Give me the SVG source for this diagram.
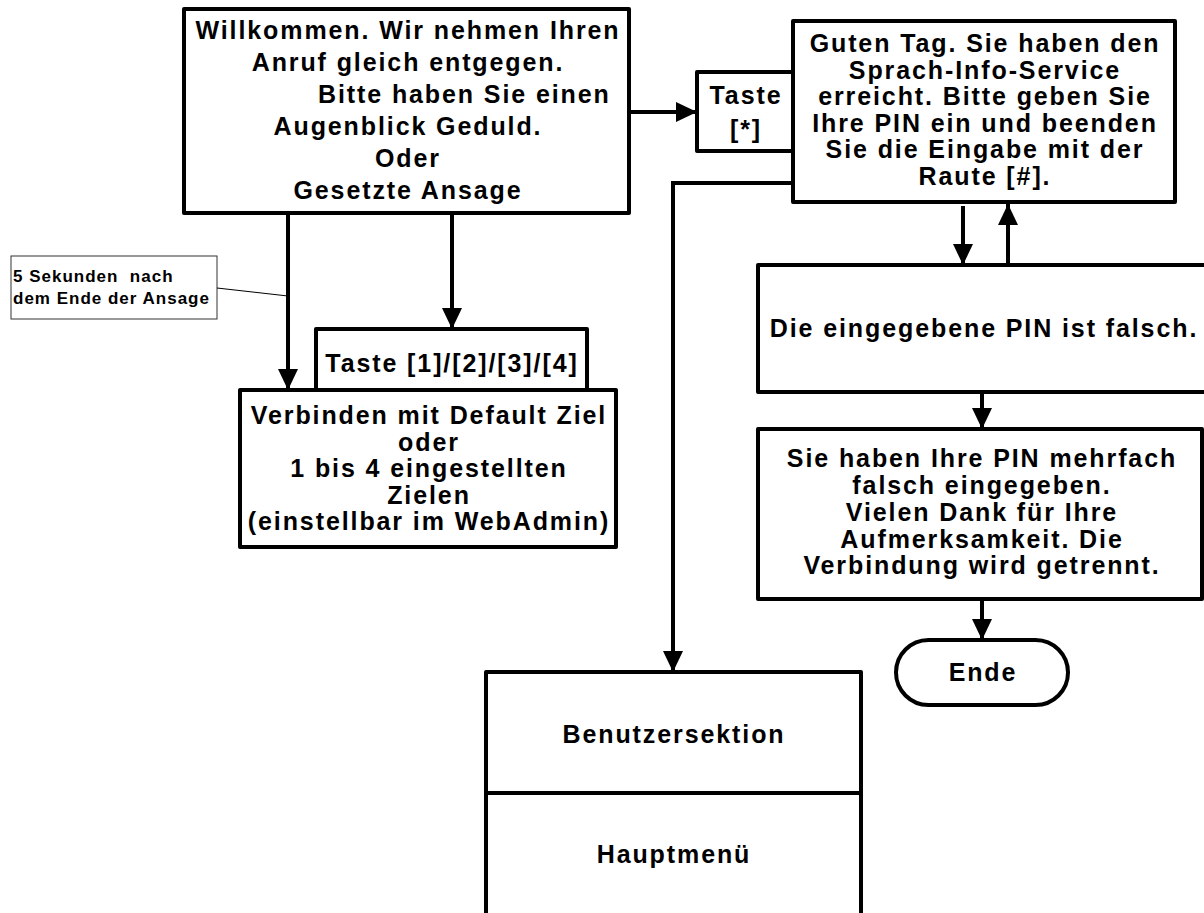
<svg xmlns="http://www.w3.org/2000/svg" width="1204" height="913" viewBox="0 0 1204 913">
<style>
.box{fill:#fff;stroke:#000;stroke-width:4;stroke-linejoin:round}
.t{font-family:"Liberation Sans",Arial,sans-serif;font-weight:bold;font-size:25px;letter-spacing:1.9px;text-anchor:middle;fill:#000}
.n{font-family:"Liberation Sans",Arial,sans-serif;font-weight:bold;font-size:17px;letter-spacing:1px;fill:#000;white-space:pre}
.c{stroke:#000;stroke-width:4;fill:none}
.thin{stroke:#000;stroke-width:1;fill:none}
</style>
<defs>
<marker id="ah" markerUnits="userSpaceOnUse" markerWidth="21" markerHeight="20" refX="21" refY="10" orient="auto">
<path d="M0,0 L21,10 L0,20 z" fill="#000"/>
</marker>
</defs>
<rect width="1204" height="913" fill="#fff"/>

<g id="willkommen">
<rect class="box" x="184" y="9" width="445" height="204"/>
<text class="t" x="408" y="38.5">Willkommen. Wir nehmen Ihren</text>
<text class="t" x="408" y="70.5">Anruf gleich entgegen.</text>
<text class="t" x="318" y="102.5" style="text-anchor:start">Bitte haben Sie einen</text>
<text class="t" x="408" y="134.5">Augenblick Geduld.</text>
<text class="t" x="408" y="166.5">Oder</text>
<text class="t" x="408" y="198.5">Gesetzte Ansage</text>
</g>

<g id="taste-stern">
<rect class="box" x="697" y="72" width="96" height="79"/>
<text class="t" x="746" y="104">Taste</text>
<text class="t" x="746" y="138">[*]</text>
</g>

<g id="guten-tag">
<rect class="box" x="793" y="21" width="382" height="181"/>
<text class="t" x="985" y="52">Guten Tag. Sie haben den</text>
<text class="t" x="985" y="78.5">Sprach-Info-Service</text>
<text class="t" x="985" y="105">erreicht. Bitte geben Sie</text>
<text class="t" x="985" y="131.5">Ihre PIN ein und beenden</text>
<text class="t" x="985" y="158">Sie die Eingabe mit der</text>
<text class="t" x="985" y="184.5">Raute [#].</text>
</g>

<g id="pin-falsch">
<rect class="box" x="758" y="265" width="452" height="127"/>
<text class="t" x="984" y="337">Die eingegebene PIN ist falsch.</text>
</g>

<g id="mehrfach">
<rect class="box" x="758" y="429" width="444" height="170"/>
<text class="t" x="982" y="467">Sie haben Ihre PIN mehrfach</text>
<text class="t" x="982" y="494">falsch eingegeben.</text>
<text class="t" x="982" y="521">Vielen Dank für Ihre</text>
<text class="t" x="982" y="547.5">Aufmerksamkeit. Die</text>
<text class="t" x="982" y="574">Verbindung wird getrennt.</text>
</g>

<g id="ende">
<rect class="box" x="896" y="640" width="172" height="65" rx="32.5" ry="32.5"/>
<text class="t" x="983" y="681">Ende</text>
</g>

<g id="benutzersektion">
<path class="box" d="M486,915 V672 H861 V915"/>
<line class="c" x1="486" y1="793" x2="861" y2="793"/>
<text class="t" x="674" y="743">Benutzersektion</text>
<text class="t" x="674" y="863">Hauptmenü</text>
</g>

<g id="verbinden">
<rect class="box" x="240" y="390" width="376" height="157"/>
<text class="t" x="429" y="424">Verbinden mit Default Ziel</text>
<text class="t" x="429" y="450.5">oder</text>
<text class="t" x="429" y="477">1 bis 4 eingestellten</text>
<text class="t" x="429" y="503.5">Zielen</text>
<text class="t" x="429" y="530">(einstellbar im WebAdmin)</text>
</g>

<g id="taste-1234">
<rect class="box" x="316" y="329" width="271" height="61"/>
<text class="t" x="452" y="372">Taste [1]/[2]/[3]/[4]</text>
</g>

<g id="notiz">
<rect x="11" y="256" width="206" height="63" fill="#fff" stroke="#333" stroke-width="1"/>
<text class="n" x="13" y="282" xml:space="preserve">5 Sekunden  nach</text>
<text class="n" x="13" y="304">dem Ende der Ansage</text>
</g>

<g id="connectors">
<line class="c" x1="629" y1="112" x2="697" y2="112" marker-end="url(#ah)"/>
<path class="c" d="M793,183 H673 V672" marker-end="url(#ah)"/>
<line class="c" x1="963" y1="206" x2="963" y2="265" marker-end="url(#ah)"/>
<line class="c" x1="1008" y1="265" x2="1008" y2="204" marker-end="url(#ah)"/>
<line class="c" x1="982" y1="392" x2="982" y2="429" marker-end="url(#ah)"/>
<line class="c" x1="982" y1="599" x2="982" y2="640" marker-end="url(#ah)"/>
<line class="c" x1="288" y1="213" x2="288" y2="390" marker-end="url(#ah)"/>
<line class="c" x1="452" y1="213" x2="452" y2="329" marker-end="url(#ah)"/>
<line class="thin" x1="217" y1="288" x2="288" y2="296"/>
</g>
</svg>
